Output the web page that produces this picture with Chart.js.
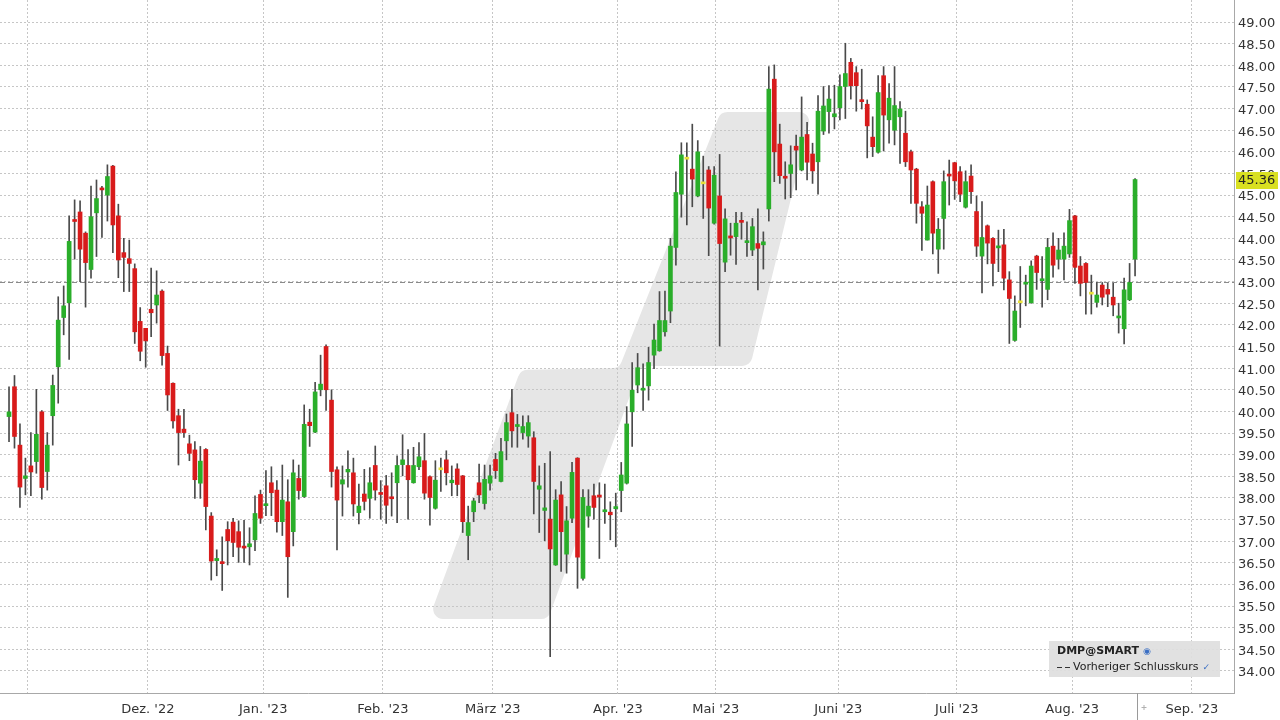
<!DOCTYPE html>
<html>
<head>
<meta charset="utf-8">
<script src="https://cdn.jsdelivr.net/npm/chart.js@4.4.0/dist/chart.umd.min.js"></script>
<style>
body{margin:0;background:#fff;}
#wrap{position:relative;width:1280px;height:720px;}
#legend{position:absolute;left:1049px;top:641px;width:171px;height:36px;background:rgba(222,222,222,0.92);font-family:"DejaVu Sans",sans-serif;font-size:11px;color:#222;}
#legend .l1{position:absolute;left:8px;top:3px;font-weight:bold;}
#legend .l1 span{color:#3a6fc4;font-weight:normal;font-size:9px;margin-left:4px;}
#legend .l2{position:absolute;left:8px;top:19px;white-space:nowrap;}
#legend .dash{display:inline-block;width:5px;border-top:1px solid #333;vertical-align:middle;margin-right:3px;}
#legend .l2 span.chk{color:#3a6fc4;font-size:9px;margin-left:4px;}
</style>
</head>
<body>
<div id="wrap">
<canvas id="chart"></canvas>
<div id="legend">
<div class="l1">DMP@SMART<span>&#9673;</span></div>
<div class="l2"><span class="dash"></span><span class="dash"></span>Vorheriger Schlusskurs<span class="chk">&#10003;</span></div>
</div>
</div>

<script>
/* daily candles, oldest first */
const open = [
39.88,40.57,39.22,38.45,38.74,38.84,39.99,38.61,39.90,41.03,
42.17,42.51,44.42,44.61,44.12,43.28,44.59,45.14,45.00,45.67,
44.52,43.67,43.53,43.30,42.08,41.92,42.36,42.46,42.78,41.34,
40.65,39.90,39.59,39.25,39.11,38.34,39.12,37.58,36.55,36.51,
37.27,37.44,37.22,36.87,36.87,37.03,38.08,37.82,38.35,38.18,
37.45,37.91,37.22,38.45,38.03,39.75,39.52,40.50,41.50,40.26,
38.65,38.32,38.60,38.58,37.66,38.09,37.99,38.75,38.12,38.28,
38.00,38.35,38.77,38.75,38.35,38.72,38.86,38.49,37.76,38.65,
38.88,38.35,38.67,38.51,37.13,37.68,38.35,37.87,38.34,38.89,
38.38,39.32,39.97,39.65,39.51,39.43,39.39,38.20,37.71,37.51,
36.45,38.07,36.70,37.53,38.92,36.14,37.58,38.05,38.05,37.68,
37.67,37.75,38.17,38.34,39.99,40.61,40.49,40.59,41.30,41.40,
41.84,42.32,43.79,45.02,45.83,45.60,44.98,45.26,45.58,44.35,
44.98,43.45,44.04,44.04,44.40,43.90,43.73,43.88,43.85,44.68,
47.68,46.18,45.42,45.50,46.13,45.58,46.40,45.95,45.77,46.48,
46.93,46.81,47.02,47.51,48.07,47.83,47.20,47.10,46.34,45.99,
47.76,46.74,46.50,46.81,46.43,46.00,45.60,44.73,43.96,45.31,
43.75,44.46,45.46,45.75,45.54,44.72,45.44,44.62,43.59,44.29,
44.00,43.78,43.85,43.04,41.64,42.51,42.94,42.51,43.59,43.02,
42.82,43.82,43.52,43.52,43.64,44.52,43.36,43.42,42.71,42.52,
42.92,42.82,42.64,42.16,41.91,42.58,43.52
];
const high = [
40.57,40.83,39.71,38.92,39.51,40.51,40.02,39.51,40.84,42.65,
42.90,44.52,44.89,44.87,44.15,45.21,45.35,45.20,45.70,45.69,
44.79,44.00,43.96,43.41,42.40,41.92,43.31,43.25,42.81,41.51,
40.66,40.05,40.05,39.45,39.30,39.19,39.14,37.66,36.80,37.10,
37.45,37.53,37.47,37.48,37.31,38.05,38.18,38.63,38.72,38.40,
38.76,38.42,38.88,38.76,40.15,40.05,40.67,41.30,41.54,40.50,
38.72,38.74,39.09,38.92,38.32,38.66,38.70,39.20,38.40,38.52,
38.58,38.97,39.46,39.12,39.17,39.28,39.49,38.51,38.86,38.92,
39.09,38.74,38.79,38.52,37.81,37.99,38.78,38.76,38.76,39.03,
39.38,39.94,40.51,39.93,39.90,39.90,39.53,38.74,38.80,39.07,
38.19,38.38,37.80,38.82,38.93,38.19,38.19,38.32,38.35,38.32,
37.91,38.11,38.82,40.11,41.13,41.34,41.10,41.48,42.02,42.77,
42.78,44.00,45.54,46.21,46.21,46.64,46.26,45.90,45.66,45.66,
45.94,44.68,44.35,44.60,44.60,44.38,44.46,44.68,44.15,47.97,
48.01,46.64,45.77,46.14,46.39,47.27,46.68,46.20,47.30,47.51,
47.53,47.54,47.78,48.51,48.16,47.97,47.91,47.20,46.81,47.76,
47.97,47.58,47.97,47.16,46.94,46.04,45.62,44.85,45.21,45.33,
44.46,45.56,45.81,45.76,45.66,45.56,45.70,44.98,44.85,44.31,
44.02,44.19,44.21,43.23,42.67,43.35,43.15,43.48,43.61,43.58,
44.00,44.13,44.00,44.13,44.67,44.53,43.58,43.44,43.15,42.98,
42.98,42.96,42.96,42.50,43.08,43.42,45.38
];
const low = [
39.30,39.15,37.78,38.07,38.05,38.57,37.97,38.18,39.22,40.19,
41.77,41.20,43.52,43.00,42.41,43.08,43.58,44.02,44.40,43.67,
43.09,42.77,42.77,41.57,41.17,41.02,41.73,42.04,41.07,40.02,
39.61,38.76,39.40,38.86,37.99,37.99,37.26,36.10,36.20,35.86,
36.45,36.64,36.51,36.51,36.45,36.78,37.41,37.59,37.59,37.21,
37.13,35.70,36.89,37.97,38.01,39.19,39.51,40.36,40.02,38.25,
36.80,37.58,38.25,37.58,37.40,37.72,37.53,37.95,37.51,37.41,
37.58,37.43,38.51,37.51,38.34,38.65,37.97,37.37,37.74,38.15,
38.30,38.05,38.05,37.20,36.57,37.45,37.89,37.74,38.18,38.45,
38.37,38.88,39.17,39.17,39.36,39.17,37.63,37.20,37.01,34.33,
36.44,36.30,36.26,37.43,35.91,36.10,37.32,37.51,36.60,37.41,
37.03,36.87,37.68,38.32,39.19,40.43,40.02,40.26,40.99,41.39,
41.74,42.05,43.38,44.49,44.31,44.73,44.96,44.46,43.60,44.33,
41.51,43.23,43.61,43.40,43.98,43.58,43.60,42.81,43.29,44.40,
45.31,45.27,44.91,44.94,45.12,45.56,45.35,45.27,45.02,46.40,
46.43,46.53,46.74,46.77,47.22,46.94,46.99,45.86,45.89,45.97,
46.02,46.20,46.16,45.73,45.66,44.81,44.35,43.72,43.96,43.64,
43.19,43.75,44.77,44.90,44.85,44.70,44.81,43.58,42.74,43.41,
42.90,43.23,42.81,41.57,41.62,41.94,42.44,42.50,42.82,42.41,
42.58,43.10,43.29,43.04,43.56,42.96,42.67,42.25,42.25,42.41,
42.46,42.42,42.21,41.81,41.56,42.56,43.13
];
const close = [
39.99,39.42,38.25,38.51,38.60,39.47,38.24,39.22,40.60,42.11,
42.44,43.93,44.39,43.75,43.44,44.50,44.92,45.12,45.43,44.31,
43.50,43.56,43.42,41.84,41.39,41.63,42.28,42.69,41.29,40.38,
39.78,39.51,39.51,39.03,38.42,38.85,37.80,36.54,36.60,36.48,
37.01,36.97,36.86,36.84,36.94,37.64,37.53,37.86,38.12,37.45,
37.95,36.64,38.58,38.17,39.70,39.67,40.45,40.63,40.50,38.61,
37.95,38.42,38.66,37.86,37.81,37.92,38.35,38.18,38.08,37.83,
37.98,38.75,38.88,38.42,38.75,38.95,38.11,38.01,38.41,38.65,
38.58,38.41,38.31,37.45,37.43,37.93,38.07,38.43,38.51,38.63,
39.07,39.74,39.55,39.68,39.65,39.74,38.38,38.28,37.77,36.82,
37.95,37.22,37.47,38.59,36.63,38.01,37.81,37.78,38.02,37.70,
37.61,37.80,38.53,39.71,40.49,41.01,40.53,41.13,41.65,42.10,
42.10,43.82,45.06,45.93,45.83,45.37,46.00,45.26,44.70,45.46,
43.88,44.45,44.01,44.35,44.37,43.92,44.27,43.77,43.92,47.45,
46.00,45.45,45.39,45.70,46.04,46.34,45.76,45.56,46.94,47.06,
47.22,46.88,47.51,47.81,47.53,47.53,47.16,46.60,46.12,47.37,
46.85,47.24,47.07,46.99,45.77,45.58,44.81,44.58,44.77,44.12,
44.21,45.31,45.44,45.33,45.02,45.31,45.08,43.82,44.02,43.89,
43.42,43.81,43.08,42.61,42.32,42.51,42.96,43.36,43.21,43.06,
43.79,43.38,43.73,43.82,44.41,43.33,42.96,42.98,42.71,42.69,
42.64,42.71,42.46,42.18,42.81,42.98,45.36
];

const prevClose = 42.98;

/* axis ticks */
const yTicks = [34.00,34.50,35.00,35.50,36.00,36.50,37.00,37.50,38.00,38.50,39.00,39.50,
40.00,40.50,41.00,41.50,42.00,42.50,43.00,43.50,44.00,44.50,45.00,45.50,46.00,46.50,
47.00,47.50,48.00,48.50,49.00];
const monthTickPos = [3.3, 25.4, 46.5, 68.4, 88.5, 111.4, 129.3, 151.7, 173.4, 194.5, 216.4];
const monthLabels = ["", "Dez. '22", "Jan. '23", "Feb. '23", "März '23", "Apr. '23", "Mai '23",
"Juni '23", "Juli '23", "Aug. '23", "Sep. '23"];

const GREEN = "#2aae2a";
const RED = "#d81b1b";
const YELLOW = "#e8e03a";
const FONT = "'DejaVu Sans', Verdana, sans-serif";

let bodyColors = open.map((o, i) => close[i] > o ? GREEN : (close[i] < o ? RED : YELLOW));
let bodies = open.map((o, i) => ({x: i, y: [o, close[i]]}));
let wicks = open.map((o, i) => ({x: i, y: [low[i], high[i]]}));

/* grey band in the background, previous close, last price box */
const bandPlugin = {
id: "band",
beforeDraw(chart) {
const {ctx, chartArea, scales} = chart;
const pts = [[76.8, 35.2], [93.6, 40.96], [111.6, 41.0], [130.2, 46.92],
[146.9, 46.92], [135.6, 41.05], [115.6, 41.05], [98.6, 35.2]]
.map(p => [scales.x.getPixelForValue(p[0]), scales.y.getPixelForValue(p[1])]);
ctx.save();
ctx.beginPath();
ctx.rect(chartArea.left, chartArea.top, chartArea.width, chartArea.height);
ctx.clip();
ctx.fillStyle = "#e6e6e6";
ctx.beginPath();
let n = pts.length;
ctx.moveTo((pts[n - 1][0] + pts[0][0]) / 2, (pts[n - 1][1] + pts[0][1]) / 2);
for (let k = 0; k < n; k++) {
let p = pts[k], q = pts[(k + 1) % n];
ctx.arcTo(p[0], p[1], q[0], q[1], 10);
}
ctx.closePath();
ctx.fill();
ctx.restore();
},
beforeDatasetsDraw(chart) {
const {ctx, chartArea, scales} = chart;
let y = Math.round(scales.y.getPixelForValue(prevClose)) + 0.5;
ctx.save();
ctx.strokeStyle = "#8a8a8a";
ctx.lineWidth = 1;
ctx.setLineDash([5, 3]);
ctx.beginPath();
ctx.moveTo(chartArea.left, y);
ctx.lineTo(chartArea.right, y);
ctx.stroke();
ctx.restore();
},
afterDraw(chart) {
const {ctx, chartArea, scales} = chart;
let last = close[close.length - 1];
let y = scales.y.getPixelForValue(last);
ctx.save();
ctx.fillStyle = "#d9e021";
ctx.fillRect(chartArea.right + 2, Math.round(y) - 8, 42, 17);
ctx.fillStyle = "#222";
ctx.font = "13px " + FONT;
ctx.textBaseline = "middle";
ctx.fillText(last.toFixed(2), chartArea.right + 4, y + 1);
/* end-of-data marker under the axis */
let xm = Math.round(scales.x.getPixelForValue(close.length - 0.7)) + 0.5;
ctx.strokeStyle = "#9a9a9a";
ctx.beginPath();
ctx.moveTo(xm, chartArea.bottom);
ctx.lineTo(xm, 720);
ctx.stroke();
ctx.fillStyle = "#b0b0b0";
ctx.fillRect(xm + 4, 707, 5, 1);
ctx.fillRect(xm + 6, 705, 1, 5);
ctx.restore();
}
};

new Chart(document.getElementById("chart"), {
type: "bar",
data: {
datasets: [{
data: bodies,
backgroundColor: bodyColors,
barThickness: 4,
minBarLength: 2,
grouped: false
}, {
data: wicks,
backgroundColor: "#4a4a4a",
barThickness: 1,
grouped: false
}]
},
options: {
responsive: true,
maintainAspectRatio: false,
animation: false,
devicePixelRatio: 1,
layout: {padding: 0},
plugins: {legend: {display: false}, tooltip: {enabled: false}},
scales: {
x: {
type: "linear",
min: -1.65,
max: 224.1,
offset: false,
afterBuildTicks: s => { s.ticks = monthTickPos.map(v => ({value: v})); },
afterFit: s => { s.height = 27; s.paddingLeft = 0; s.paddingRight = 0; },
ticks: {
autoSkip: false,
maxRotation: 0,
padding: 9,
color: "#333",
font: {family: FONT, size: 13},
callback: (v, i) => monthLabels[i]
},
grid: {color: "#c6c6c6", drawTicks: false, offset: false},
border: {color: "#a8a8a8", dash: [2, 2]}
},
y: {
position: "right",
min: 33.49,
max: 49.51,
afterBuildTicks: s => { s.ticks = yTicks.map(v => ({value: v})); },
afterFit: s => { s.width = 46; s.paddingTop = 0; s.paddingBottom = 0; },
ticks: {
padding: 4,
labelOffset: 2,
color: "#333",
font: {family: FONT, size: 13},
callback: v => v.toFixed(2)
},
grid: {color: "#c6c6c6", drawTicks: false},
border: {color: "#a8a8a8", dash: [2, 2]}
}
}
},
plugins: [bandPlugin]
});
</script>
</body>
</html>
